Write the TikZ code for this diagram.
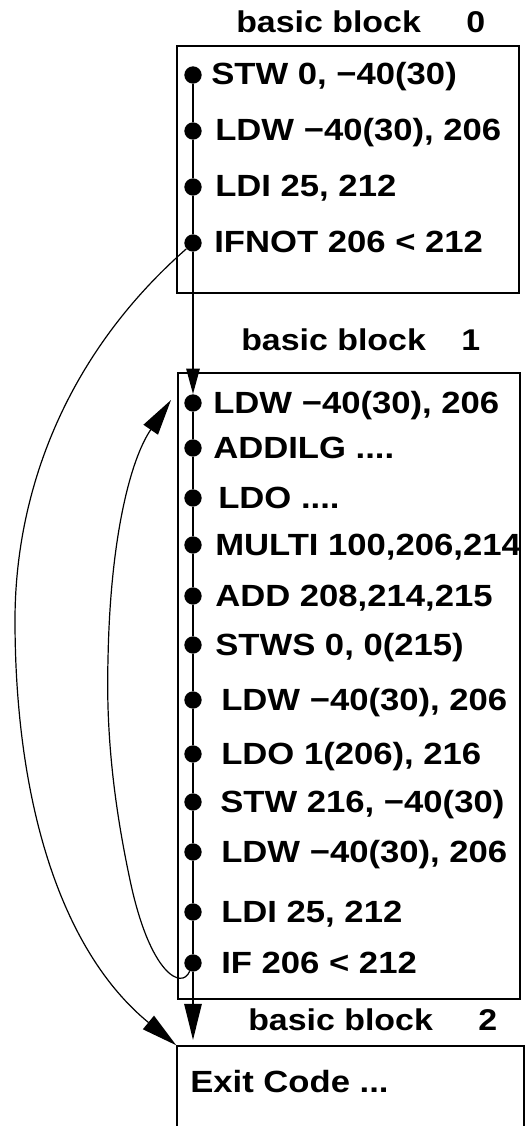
\documentclass[tikz,border=0pt]{standalone}
\usepackage{fontspec}
\setmainfont{Liberation Sans}
\newfontfamily\diagfont[FakeStretch=1.13]{Liberation Sans}
\usetikzlibrary{arrows.meta,fit}
\begin{document}
\begin{tikzpicture}[x=0.75pt,y=-0.75pt,
  blockbox/.style={draw, line width=1.1pt, inner sep=0pt},
  instr/.style={font=\diagfont\fontsize{23}{27}\selectfont\bfseries, inner sep=0pt, anchor=base west},
  title/.style={font=\diagfont\fontsize{22.5}{27}\selectfont\bfseries, inner sep=0pt, anchor=base west},
  pt/.style={circle, fill, inner sep=0pt, minimum size=13pt},
  flow/.style={line width=1.2pt},
  jump/.style={line width=0.9pt},
  bigtip/.style={-{Triangle[length=27pt,width=13pt]}},
  smalltip/.style={-{Triangle[length=19pt,width=10pt]}}]

\useasboundingbox (0,0) rectangle (529,1126);
\clip (0,0) rectangle (529,1126);

% block frames
\node[blockbox, fit={(177,46) (519,293)}] (b0) {};
\node[blockbox, fit={(178,373) (520,999)}] (b1) {};
\node[blockbox, fit={(177,1046) (524,1160)}] (b2) {};

% block titles
\node[title] (h0) at (236,33) {basic block};
\node[title] (n0) at (466,33) {0};
\node[title] (h1) at (241,350) {basic block};
\node[title] (n1) at (461,350) {1};
\node[title] (h2) at (248,1030) {basic block};
\node[title] (n2) at (478,1030) {2};

% block 0
\node[pt] (p01) at (193,75) {};
\node[pt] (p02) at (193,131) {};
\node[pt] (p03) at (193,187) {};
\node[pt] (p04) at (193,243) {};
\node[instr] (t01) at (211,85) {STW 0, −40(30)};
\node[instr] (t02) at (215,141) {LDW −40(30), 206};
\node[instr] (t03) at (215,197) {LDI 25, 212};
\node[instr] (t04) at (214,253) {IFNOT 206 < 212};

% block 1
\node[pt] (p11) at (193,403) {};
\node[pt] (p12) at (193,448) {};
\node[pt] (p13) at (193,498) {};
\node[pt] (p14) at (193,545) {};
\node[pt] (p15) at (193,596) {};
\node[pt] (p16) at (193,645) {};
\node[pt] (p17) at (193,700) {};
\node[pt] (p18) at (193,754) {};
\node[pt] (p19) at (193,802) {};
\node[pt] (p1a) at (193,852) {};
\node[pt] (p1b) at (193,912) {};
\node[pt] (p1c) at (193,963) {};
\node[instr] (t11) at (213,413) {LDW −40(30), 206};
\node[instr] (t12) at (213,458) {ADDILG ....};
\node[instr] (t13) at (218,508) {LDO ....};
\node[instr] (t14) at (215,555) {MULTI 100,206,214};
\node[instr] (t15) at (215,606) {ADD 208,214,215};
\node[instr] (t16) at (215,655) {STWS 0, 0(215)};
\node[instr] (t17) at (221,710) {LDW −40(30), 206};
\node[instr] (t18) at (221,764) {LDO 1(206), 216};
\node[instr] (t19) at (220,812) {STW 216, −40(30)};
\node[instr] (t1a) at (221,862) {LDW −40(30), 206};
\node[instr] (t1b) at (221,922) {LDI 25, 212};
\node[instr] (t1c) at (221,973) {IF 206 < 212};

% block 2
\node[instr] (t21) at (190,1092) {Exit Code ...};

% fall-through flow
\draw[flow] (p01) -- (p02) -- (p03) -- (p04);
\draw[flow, smalltip] (p04) -- (p11);
\draw[flow] (p11) -- (p12) -- (p13) -- (p14) -- (p15) -- (p16) -- (p17)
  -- (p18) -- (p19) -- (p1a) -- (p1b) -- (p1c);
\draw[flow, bigtip, shorten >=4pt] (p1c) -- (p1c |- b2.north);

% branch from block 0 to block 2
\draw[jump, bigtip] (p04) .. controls (60,360) and (15,500) .. (15,620)
  .. controls (15,800) and (60,950) .. (b2.north west);

% loop back edge of block 1
\coordinate (back) at (171,400);
\draw[jump, bigtip] (p1c) .. controls (182,990) and (150,975) .. (130,880)
  .. controls (113,800) and (106,730) .. (108,660)
  .. controls (110,540) and (130,460) .. (back);
\end{tikzpicture}
\end{document}
